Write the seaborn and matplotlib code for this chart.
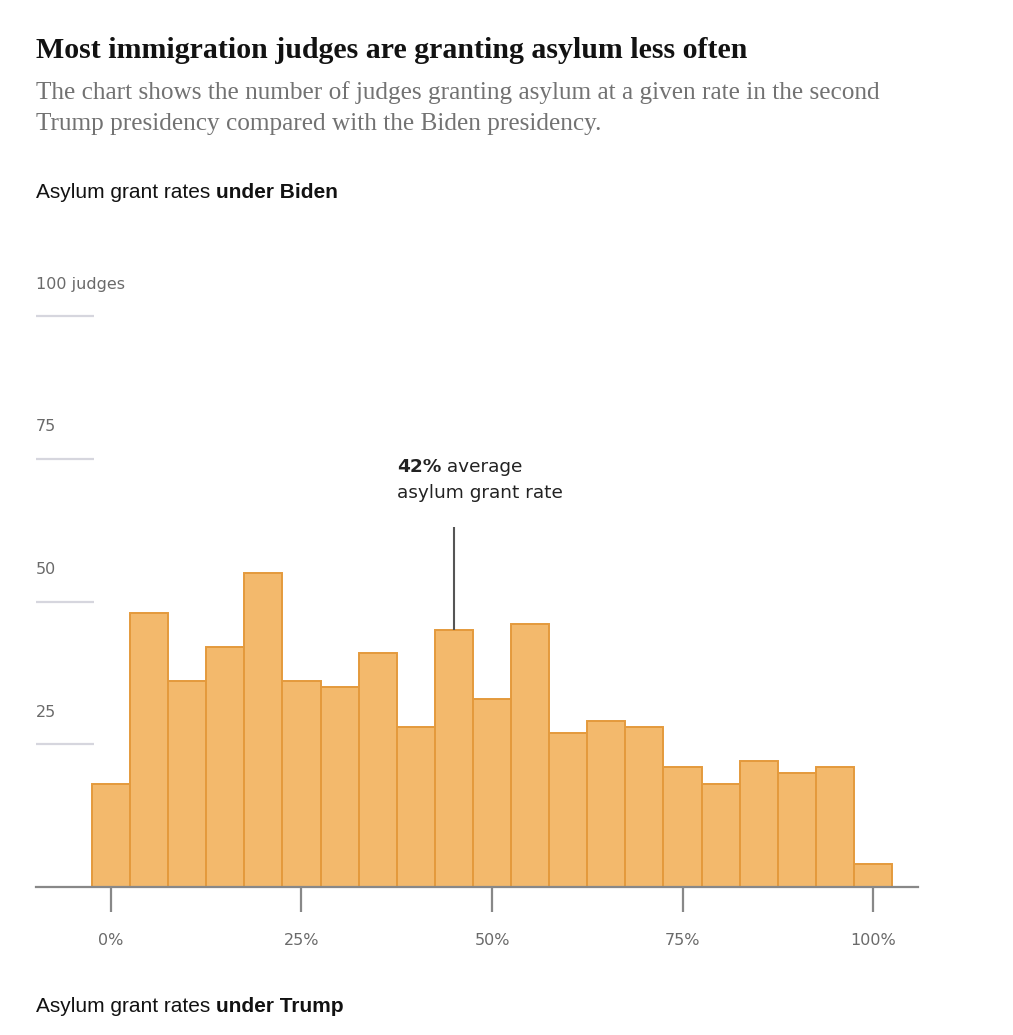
import matplotlib
matplotlib.use("Agg")
import matplotlib.pyplot as plt
import seaborn as sns

# asylum grant rate bins (percent) and number of judges under Biden
rates = [0, 5, 10, 15, 20, 25, 30, 35, 40, 45, 50, 55, 60, 65, 70, 75, 80, 85, 90, 95, 100]
judges = [18, 48, 36, 42, 55, 36, 35, 41, 28, 45, 33, 46, 27, 29, 28, 21, 18, 22, 20, 21, 4]
x_ticks = [0, 25, 50, 75, 100]
y_levels = [25, 50, 75, 100]
y_labels = ["25", "50", "75", "100 judges"]
avg_bar = 45  # bar the annotation points at
avg_label = "42%"

sns.set_theme(style="white")
plt.rcParams["font.family"] = ["Liberation Sans", "DejaVu Sans"]

W, H = 1013, 1035
fig = plt.figure(figsize=(W / 100, H / 100), dpi=100)
ax = fig.add_axes([36 / W, 1 - 887 / H, 882 / W, 571 / H])

sns.histplot(x=rates, weights=judges, binwidth=5, binrange=(-2.5, 102.5),
             color="#F3B96C", edgecolor="#E49A3C", linewidth=1.4, alpha=1, ax=ax)

ax.set_xlim(-9.84, 105.9)
ax.set_ylim(0, 100)
ax.set_xlabel("")
ax.set_ylabel("")
ax.set_yticks([])
ax.set_xticks(x_ticks)
ax.set_xticklabels([f"{t}%" for t in x_ticks], color="#6a6a6a", fontsize=11.5,
                   family=["DejaVu Sans"])
ax.tick_params(axis="x", length=18, width=1.6, color="#888888", pad=15, bottom=True)
for s in ["top", "right", "left"]:
    ax.spines[s].set_visible(False)
ax.spines["bottom"].set_color("#888888")
ax.spines["bottom"].set_linewidth(1.6)

# short grid marks with labels on the left
trans = ax.get_yaxis_transform()
for lvl, lab in zip(y_levels, y_labels):
    ax.plot([0, 0.066], [lvl, lvl], transform=trans, color="#D6D6DE", lw=1.6,
            solid_capstyle="butt", clip_on=False)
    ax.annotate(lab, xy=(0, lvl), xycoords=trans, xytext=(0, 23), textcoords="offset points",
                va="center", ha="left", fontsize=11.5, color="#6a6a6a",
                family=["DejaVu Sans"])

# average annotation
top = judges[rates.index(avg_bar)]
ax.vlines(avg_bar, top, 63, color="#555555", lw=1.5)
t1 = ax.text(37.5, 73.5, avg_label, fontsize=13.3, weight="bold", color="#222222",
             va="center", ha="left", family=["DejaVu Sans"])
ax.annotate(" average", xy=(1, 0.5), xycoords=t1, va="center", ha="left",
            fontsize=13.3, color="#222222", family=["DejaVu Sans"])
ax.text(37.5, 69.0, "asylum grant rate", fontsize=13.3, color="#222222",
        va="center", ha="left", family=["DejaVu Sans"])

# titles
fig.text(36 / W, 1 - 50 / H, "Most immigration judges are granting asylum less often",
         fontsize=21.5, weight="bold", family=["Liberation Serif"], color="#121212",
         va="center", ha="left")
fig.text(36 / W, 1 - 93 / H,
         "The chart shows the number of judges granting asylum at a given rate in the second",
         fontsize=18.2, family=["Liberation Serif"], color="#727272", va="center", ha="left")
fig.text(36 / W, 1 - 124 / H, "Trump presidency compared with the Biden presidency.",
         fontsize=18.2, family=["Liberation Serif"], color="#727272", va="center", ha="left")

for ypix, who in [(193, "under Biden"), (1006, "under Trump")]:
    t = fig.text(36 / W, 1 - ypix / H, "Asylum grant rates ", fontsize=15,
                 color="#121212", va="center", ha="left")
    ax.annotate(who, xy=(1, 0.5), xycoords=t, va="center", ha="left", fontsize=15,
                weight="bold", color="#121212", annotation_clip=False)

fig.savefig("out.png", dpi=100)
